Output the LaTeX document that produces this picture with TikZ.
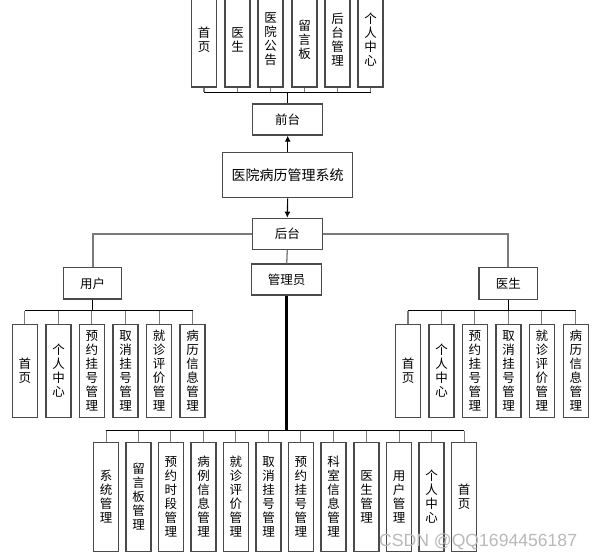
\documentclass[tikz,border=0pt]{standalone}
\usepackage{fontspec}
\setmainfont{Liberation Sans}
\newfontfamily\cjk{Noto Sans CJK SC}
\usetikzlibrary{arrows.meta}
\definecolor{boxc}{HTML}{4A4A4A}
\definecolor{linec}{HTML}{7A7A7A}
\tikzset{
  box/.style={draw=boxc, line width=1.3pt, fill=white, inner sep=0pt, font=\cjk\fontsize{12.5}{14}\selectfont, align=center},
  hbox/.style={box, minimum width=70pt, minimum height=31pt},
  vbox/.style={box, minimum width=25pt, minimum height=93pt},
  bbox/.style={box, minimum width=25pt, minimum height=109.4pt},
  tbox/.style={box, minimum width=25pt, minimum height=95pt},
  bus/.style={draw=black, line width=1.1pt},
  leg/.style={draw=linec, line width=1.3pt},
  thick line/.style={draw=linec, line width=2pt},
  arr/.style={draw=black, line width=1.1pt, -{Latex[length=6pt,width=6pt]}}
}
\begin{document}
\begin{tikzpicture}[x=1pt,y=-1pt]
\clip (0,0) rectangle (592,559);
\fill[white] (0,0) rectangle (592,559);

% top row
\node[tbox] (t1) at (204,39.5) {首\\页};
\node[tbox] (t2) at (237.5,39.5) {医\\生};
\node[tbox] (t3) at (270.5,39.5) {医\\院\\公\\告};
\node[tbox] (t4) at (304.5,39.5) {留\\言\\板};
\node[tbox] (t5) at (337.5,39.5) {后\\台\\管\\理};
\node[tbox] (t6) at (370.5,39.5) {个\\人\\中\\心};

\node[hbox] (qt) at (287.7,119.5) {前台};
\node[box, minimum width=130pt, minimum height=45pt, font=\cjk\fontsize{14}{16}\selectfont] (sys) at (287.7,175.2) {医院病历管理系统};
\node[hbox] (ht) at (287.3,233.8) {后台};
\node[hbox] (gly) at (286.7,279.5) {管理员};
\node[box, minimum width=58.4pt, minimum height=31.3pt] (yh) at (92.5,283.3) {用户};
\node[box, minimum width=58.7pt, minimum height=31.6pt] (ys) at (508.3,283.5) {医生};

% user children
\node[vbox] (u1) at (24.8,370.8) {首\\页};
\node[vbox] (u2) at (58.5,370.8) {个\\人\\中\\心};
\node[vbox] (u3) at (91.8,370.8) {预\\约\\挂\\号\\管\\理};
\node[vbox] (u4) at (125.5,370.8) {取\\消\\挂\\号\\管\\理};
\node[vbox] (u5) at (159.2,370.8) {就\\诊\\评\\价\\管\\理};
\node[vbox] (u6) at (192.5,370.8) {病\\历\\信\\息\\管\\理};

% doctor children
\node[vbox] (d1) at (408,370.8) {首\\页};
\node[vbox] (d2) at (441.5,370.8) {个\\人\\中\\心};
\node[vbox] (d3) at (474.8,370.8) {预\\约\\挂\\号\\管\\理};
\node[vbox] (d4) at (508.5,370.8) {取\\消\\挂\\号\\管\\理};
\node[vbox] (d5) at (541.8,370.8) {就\\诊\\评\\价\\管\\理};
\node[vbox] (d6) at (575.8,370.8) {病\\历\\信\\息\\管\\理};

% admin children
\node[bbox] (a1) at (106.2,497) {系\\统\\管\\理};
\node[bbox] (a2) at (138.5,497) {留\\言\\板\\管\\理};
\node[bbox] (a3) at (170.8,497) {预\\约\\时\\段\\管\\理};
\node[bbox] (a4) at (203.5,497) {病\\例\\信\\息\\管\\理};
\node[bbox] (a5) at (235.8,497) {就\\诊\\评\\价\\管\\理};
\node[bbox] (a6) at (268.5,497) {取\\消\\挂\\号\\管\\理};
\node[bbox] (a7) at (300.8,497) {预\\约\\挂\\号\\管\\理};
\node[bbox] (a8) at (333.5,497) {科\\室\\信\\息\\管\\理};
\node[bbox] (a9) at (366.5,497) {医\\生\\管\\理};
\node[bbox] (a10) at (399.2,497) {用\\户\\管\\理};
\node[bbox] (a11) at (431.5,497) {个\\人\\中\\心};
\node[bbox] (a12) at (464.2,497) {首\\页};

% top connectors
\coordinate (tb) at (287.7,92.5);
\foreach \i in {1,...,6} \draw[leg] (t\i.south) -- (t\i.south |- tb);
\draw[bus] (t1.south |- tb) -- (t6.south |- tb);
\draw[bus] (tb) -- (qt.north);

\draw[arr] (sys.north) -- (qt.south);
\draw[arr] (sys.south) -- (ht.north);

\draw[thick line] (ht.west) -| (yh.north);
\draw[thick line] (ht.east) -| (ys.north);
\draw[leg] (ht.south) -- (gly.north);

% user bus
\coordinate (ub) at (92.5,310.5);
\draw[bus] (yh.south) -- (ub);
\draw[bus] (u1.north |- ub) -- (u6.north |- ub);
\foreach \i in {1,...,6} \draw[leg] (u\i.north |- ub) -- (u\i.north);

% doctor bus
\coordinate (db) at (508.3,310.5);
\draw[bus] (ys.south) -- (db);
\draw[bus] (d1.north |- db) -- (d6.north |- db);
\foreach \i in {1,...,6} \draw[leg] (d\i.north |- db) -- (d\i.north);

% admin bus
\coordinate (ab) at (286.7,430.7);
\draw[draw=black, line width=2.5pt] (gly.south) -- (ab);
\draw[bus] (a1.north |- ab) -- (a12.north |- ab);
\foreach \i in {1,...,12} \draw[leg] (a\i.north |- ab) -- (a\i.north);

\node[text=gray!55, font=\fontsize{17.6}{19}\selectfont, inner sep=0pt, anchor=west] (wm) at (379,541.5) {CSDN @QQ1694456187};
\end{tikzpicture}
\end{document}
